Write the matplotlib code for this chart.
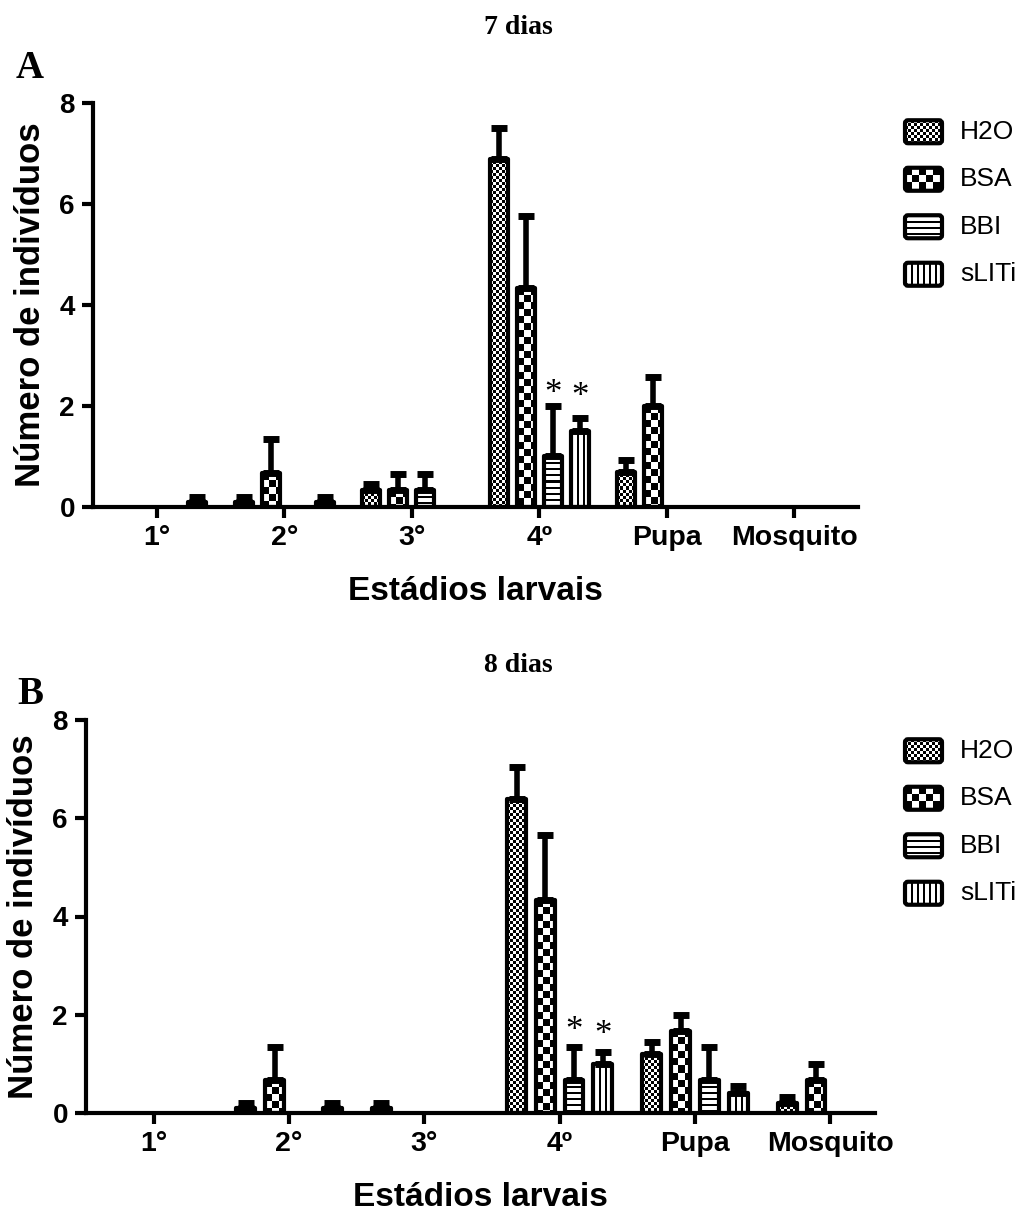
import numpy as np
import matplotlib
matplotlib.use("Agg")
import matplotlib.pyplot as plt
from matplotlib.patches import FancyBboxPatch

plt.rcParams['font.family'] = ['Liberation Sans', 'DejaVu Sans']

# ---------------- data ----------------
categories = ['1°', '2°', '3°', '4º', 'Pupa', 'Mosquito']
groups = ['H2O', 'BSA', 'BBI', 'sLITi']

# Panel A: 7 dias (mean, upper error)
a_h2o = [0, 0.1, 0.33, 6.9, 0.7, 0]
a_h2o_err = [0, 0.1, 0.12, 0.6, 0.23, 0]
a_bsa = [0, 0.67, 0.33, 4.33, 2.0, 0]
a_bsa_err = [0, 0.67, 0.33, 1.43, 0.58, 0]
a_bbi = [0, 0, 0.33, 1.0, 0, 0]
a_bbi_err = [0, 0, 0.33, 1.0, 0, 0]
a_slit = [0.1, 0.1, 0, 1.5, 0, 0]
a_slit_err = [0.1, 0.1, 0, 0.26, 0, 0]
a_star_heights = [2.22, 2.16]   # asterisks over BBI and sLITi at 4º

# Panel B: 8 dias
b_h2o = [0, 0.1, 0.1, 6.4, 1.2, 0.2]
b_h2o_err = [0, 0.1, 0.1, 0.65, 0.25, 0.12]
b_bsa = [0, 0.67, 0, 4.33, 1.67, 0.67]
b_bsa_err = [0, 0.67, 0, 1.33, 0.33, 0.33]
b_bbi = [0, 0, 0, 0.67, 0.67, 0]
b_bbi_err = [0, 0, 0, 0.67, 0.67, 0]
b_slit = [0, 0.1, 0, 1.0, 0.4, 0]
b_slit_err = [0, 0.1, 0, 0.25, 0.15, 0]
b_star_heights = [1.66, 1.58]

yticks = [0, 2, 4, 6, 8]

# ---------------- layout ----------------
W, H = 1035, 1230
fig = plt.figure(figsize=(W / 100, H / 100), dpi=100)

def px_axes(x0, y0, x1, y1):
    """axes from pixel box (top-left origin)"""
    return fig.add_axes([x0 / W, 1 - y1 / H, (x1 - x0) / W, (y1 - y0) / H])

PATTERNS = ['fine', 'coarse', 'hlines', 'vlines']

def pattern_img(kind, nx, ny):
    ix = np.arange(nx)[None, :]
    iy = np.arange(ny)[:, None]
    if kind == 'fine':
        m = ((ix // 3 + iy // 3) % 2 == 0)
    elif kind == 'coarse':
        m = ((ix // 7 + iy // 7) % 2 == 0)
    elif kind == 'hlines':
        m = np.broadcast_to((iy % 6) < 2, (ny, nx))
    else:
        m = np.broadcast_to((ix % 6) < 2, (ny, nx))
    img = np.where(m, 0.0, 1.0)
    return img

def add_texture(ax, patch, kind, z):
    bb = patch.get_window_extent(renderer=None)
    nx = max(int(round(bb.width)), 1)
    ny = max(int(round(bb.height)), 1)
    x0, y0 = patch.get_x(), patch.get_y()
    x1, y1 = x0 + patch.get_width(), y0 + patch.get_height()
    img = pattern_img(kind, nx, ny)
    im = ax.imshow(img, extent=(x0, x1, y0, y1), origin='upper', cmap='gray',
                   vmin=0, vmax=1, interpolation='nearest', aspect='auto', zorder=z)
    im.set_clip_path(patch)

def draw_panel(box, series, errs, stars, title, letter, title_xy, letter_xy,
               legend_box, xlim):
    x0, y0, x1, y1 = box
    ax = px_axes(x0, y0, x1, y1)
    ax.set_xlim(*xlim)
    ax.set_ylim(0, 8)
    x = np.arange(len(categories))
    step = 0.212
    width = 0.14
    for gi, (vals, ev) in enumerate(zip(series, errs)):
        vals = np.asarray(vals, float)
        ev = np.asarray(ev, float)
        idx = np.nonzero(vals > 0)[0]
        xs = x[idx] + (gi - 1.5) * step
        face = ax.bar(xs, vals[idx], width=width, color='white', edgecolor='none', zorder=2)
        for p in face.patches:
            add_texture(ax, p, PATTERNS[gi], 2.5)
        ax.bar(xs, vals[idx], width=width, fill=False, edgecolor='black',
               linewidth=3, joinstyle='round', zorder=3)
        ax.errorbar(xs, vals[idx], yerr=[np.zeros(len(idx)), ev[idx]], fmt='none',
                    ecolor='black', elinewidth=4, capsize=6, capthick=5, zorder=4)
    # significance marks over BBI and sLITi at 4º
    for gi, h in zip([2, 3], stars):
        ax.text(3 + (gi - 1.5) * step, h, '*', ha='center', va='center',
                fontsize=25, family='Liberation Serif', zorder=5)

    for s in ['top', 'right']:
        ax.spines[s].set_visible(False)
    for s in ['left', 'bottom']:
        ax.spines[s].set_linewidth(3)
    ax.spines['left'].set_bounds(0, 8)
    ax.set_yticks(yticks)
    ax.set_yticklabels([str(t) for t in yticks], fontsize=20, fontweight='bold')
    ax.set_xticks(x)
    ax.set_xticklabels(categories, fontsize=20.5, fontweight='bold')
    ax.tick_params(axis='both', width=3, length=8, direction='out', pad=5)
    ax.set_xlabel('Estádios larvais', fontsize=24, fontweight='bold', labelpad=18)
    ax.set_ylabel('Número de indivíduos', fontsize=25, fontweight='bold', labelpad=9)

    fig.text(title_xy[0] / W, 1 - title_xy[1] / H, title, ha='center', va='center',
             fontsize=20, fontweight='bold', family='Liberation Serif')
    fig.text(letter_xy[0] / W, 1 - letter_xy[1] / H, letter, ha='center', va='center',
             fontsize=28, fontweight='bold', family='Liberation Serif')

    # legend
    lx0, ly0, lx1, ly1 = legend_box
    lax = px_axes(lx0, ly0, lx1, ly1)
    lax.set_xlim(0, lx1 - lx0)
    lax.set_ylim(ly1 - ly0, 0)
    lax.axis('off')
    row = (ly1 - ly0) / len(groups)
    for gi, g in enumerate(groups):
        cy = row * (gi + 0.5)
        bx, bw, bh = 5, 37, 23
        p = FancyBboxPatch((bx, cy - bh / 2), bw, bh,
                           boxstyle='round,pad=0,rounding_size=3',
                           facecolor='white', edgecolor='none', zorder=1)
        lax.add_patch(p)
        img = pattern_img(PATTERNS[gi], bw, bh)
        im = lax.imshow(img, extent=(bx, bx + bw, cy + bh / 2, cy - bh / 2),
                        origin='upper', cmap='gray', vmin=0, vmax=1,
                        interpolation='nearest', aspect='auto', zorder=2)
        im.set_clip_path(p)
        e = FancyBboxPatch((bx, cy - bh / 2), bw, bh,
                           boxstyle='round,pad=0,rounding_size=3',
                           facecolor='none', edgecolor='black', linewidth=3, zorder=3)
        lax.add_patch(e)
        lax.text(bx + bw + 18, cy, g, ha='left', va='center', fontsize=19)
    return ax

draw_panel((93, 103, 858, 507),
           [a_h2o, a_bsa, a_bbi, a_slit],
           [a_h2o_err, a_bsa_err, a_bbi_err, a_slit_err],
           a_star_heights, '7 dias', 'A', (518, 28), (30, 68),
           (900, 108, 1035, 298), (-0.5, 5.5))

draw_panel((86, 720, 875, 1113),
           [b_h2o, b_bsa, b_bbi, b_slit],
           [b_h2o_err, b_bsa_err, b_bbi_err, b_slit_err],
           b_star_heights, '8 dias', 'B', (518, 665), (30, 695),
           (900, 727, 1035, 917), (-0.5, 5.33))

fig.savefig('out.png', dpi=100)
